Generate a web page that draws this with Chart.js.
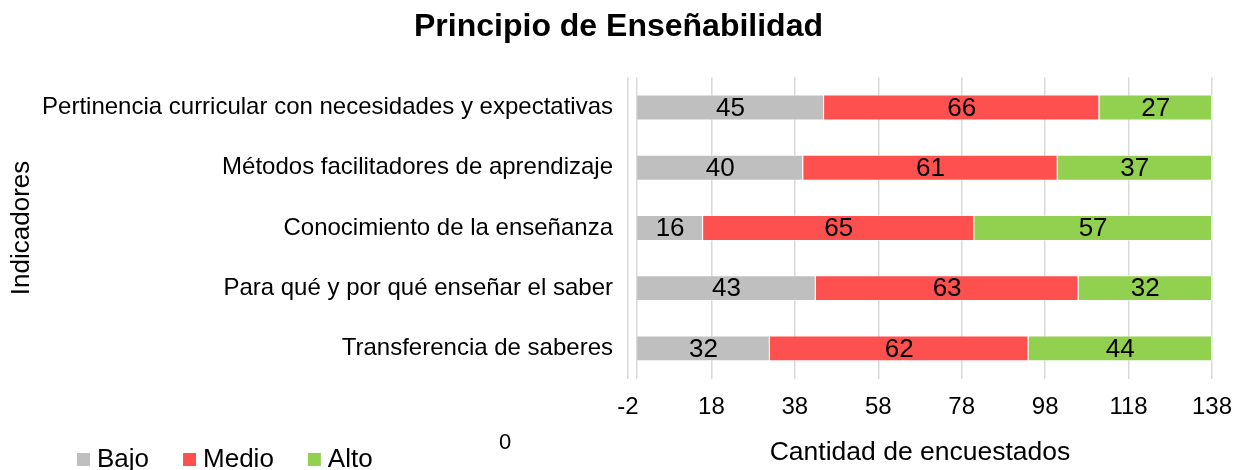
<!DOCTYPE html>
<html>
<head>
<meta charset="utf-8">
<script src="https://cdn.jsdelivr.net/npm/chart.js@4.4.1/dist/chart.umd.min.js"></script>
<style>
  html, body { margin: 0; padding: 0; background: #fff; }
  canvas { display: block; }
</style>
</head>
<body>
<canvas id="barChart" width="1237" height="470"></canvas>
<script>
  // datos
  const categories = [
    'Pertinencia curricular con necesidades y expectativas',
    'Métodos facilitadores de aprendizaje',
    'Conocimiento de la enseñanza',
    'Para qué y por qué enseñar el saber',
    'Transferencia de saberes'
  ];
  const seriesNames = ['Bajo', 'Medio', 'Alto'];
  const bajo = [45, 40, 16, 43, 32];
  const medio = [66, 61, 65, 63, 62];
  const alto = [27, 37, 57, 32, 44];
  const xTicks = [-2, 18, 38, 58, 78, 98, 118, 138];
  const axisZero = 0;

  const FONT = "'Liberation Sans', Arial, sans-serif";
  const colors = ['#BFBFBF', '#FF5050', '#92D050'];

  // etiquetas de valor dentro de cada segmento
  const valueLabels = {
    id: 'valueLabels',
    afterDatasetsDraw(chart) {
      const ctx = chart.ctx;
      ctx.save();
      ctx.font = '26px ' + FONT;
      ctx.fillStyle = '#000';
      ctx.textAlign = 'center';
      ctx.textBaseline = 'middle';
      chart.data.datasets.forEach((ds, i) => {
        const meta = chart.getDatasetMeta(i);
        meta.data.forEach((bar, j) => {
          const cx = (bar.x + bar.base) / 2;
          ctx.fillText(ds.data[j], cx, bar.y + 1);
        });
      });
      ctx.restore();
    }
  };

  // leyenda abajo a la izquierda (como en Excel) y el "0" suelto
  const bottomLegend = {
    id: 'bottomLegend',
    afterDraw(chart) {
      const ctx = chart.ctx;
      ctx.save();
      ctx.font = '26px ' + FONT;
      ctx.textBaseline = 'middle';
      ctx.textAlign = 'left';
      let x = 77;
      const y = 459;
      chart.data.datasets.forEach(ds => {
        ctx.fillStyle = ds.backgroundColor;
        ctx.fillRect(x, y - 6, 13, 13);
        ctx.fillStyle = '#000';
        ctx.fillText(ds.label, x + 20, y + 1);
        x += 20 + ctx.measureText(ds.label).width + 34;
      });
      ctx.font = '22px ' + FONT;
      ctx.textAlign = 'center';
      ctx.fillText(String(axisZero), 505, 443);
      ctx.restore();
    }
  };

  const ctx = document.getElementById('barChart').getContext('2d');
  const barChart = new Chart(ctx, {
    type: 'bar',
    data: {
      labels: categories,
      datasets: [bajo, medio, alto].map((d, i) => ({
        label: seriesNames[i],
        data: d,
        backgroundColor: colors[i],
        borderColor: 'rgba(255,255,255,0.45)',
        borderWidth: 1,
        barPercentage: 0.43,
        categoryPercentage: 1
      }))
    },
    options: {
      indexAxis: 'y',
      responsive: false,
      animation: false,
      layout: { padding: { left: 6, right: 6, top: 0, bottom: 0 } },
      plugins: {
        legend: { display: false },
        tooltip: { enabled: false },
        title: {
          display: true,
          text: 'Principio de Enseñabilidad',
          color: '#000',
          font: { family: FONT, size: 32, weight: 'bold' },
          padding: { top: 8, bottom: 31 }
        }
      },
      scales: {
        x: {
          stacked: true,
          min: -2,
          max: 138,
          afterBuildTicks(scale) {
            const vals = xTicks.concat([axisZero]).sort((a, b) => a - b);
            scale.ticks = vals.map(v => ({ value: v }));
          },
          afterFit(scale) {
            scale.paddingRight = 25;
          },
          ticks: {
            autoSkip: false,
            maxRotation: 0,
            padding: 17,
            color: '#000',
            font: { family: FONT, size: 24, lineHeight: 1 },
            callback: (v) => (v === axisZero ? '' : v)
          },
          grid: { color: '#D9D9D9', lineWidth: 1.5, drawTicks: false },
          border: { display: false },
          title: {
            display: true,
            text: 'Cantidad de encuestados',
            color: '#000',
            font: { family: FONT, size: 26.5, lineHeight: 1 },
            padding: { top: 3, bottom: 4 }
          }
        },
        y: {
          stacked: true,
          afterFit(scale) {
            scale.width = 622;
          },
          ticks: {
            padding: 15,
            color: '#000',
            font: { family: FONT, size: 24 }
          },
          grid: { display: false, drawTicks: false },
          border: { display: false },
          title: {
            display: true,
            text: 'Indicadores',
            color: '#000',
            font: { family: FONT, size: 26 },
            padding: 0
          }
        }
      }
    },
    plugins: [valueLabels, bottomLegend]
  });
</script>
</body>
</html>
